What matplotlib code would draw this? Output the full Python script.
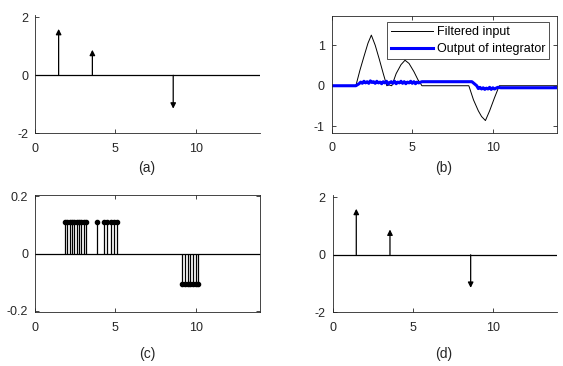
import matplotlib
matplotlib.use("Agg")
import matplotlib.pyplot as plt

plt.rcParams['font.family'] = ['Liberation Sans', 'DejaVu Sans']
plt.rcParams['axes.unicode_minus'] = False

# ---- data ----
imp_t = [1.47, 3.57, 8.6]
imp_v = [1.6, 0.88, -1.15]

filt_x = [0, 1.5, 1.75, 2.0, 2.25, 2.46, 2.7, 2.95, 3.2, 3.42, 3.55, 3.73,
          4.0, 4.3, 4.55, 4.8, 5.1, 5.35, 5.6, 8.51, 8.8, 9.1, 9.3, 9.54,
          9.8, 10.1, 10.4, 14]
filt_y = [0, 0, 0.38, 0.72, 1.05, 1.25, 1.0, 0.66, 0.3, 0.0, 0.02, 0.0,
          0.3, 0.52, 0.63, 0.55, 0.35, 0.15, 0.0, 0.0, -0.35, -0.62, -0.76, -0.86,
          -0.62, -0.3, 0.0, 0.0]

int_x = [0, 1.5, 1.7, 1.8, 1.9, 2.0, 2.1, 2.2, 2.3, 2.4, 2.5, 2.6, 2.7, 2.8,
         2.9, 3.0, 3.1, 3.2, 3.3, 3.4, 3.5, 3.6, 3.7, 3.8, 3.9, 4.0, 4.1, 4.2,
         4.3, 4.4, 4.5, 4.6, 4.7, 4.8, 4.9, 5.0, 5.1, 5.2, 5.3, 5.4, 5.6, 8.7,
         9.0, 9.1, 9.2, 9.3, 9.4, 9.5, 9.6, 9.7, 9.8, 9.9, 10.0, 10.1, 10.2,
         10.3, 10.5, 14]
int_y = [0, 0, 0.05, 0.09, 0.06, 0.11, 0.07, 0.10, 0.06, 0.12, 0.08, 0.10,
         0.06, 0.11, 0.07, 0.09, 0.05, 0.10, 0.07, 0.11, 0.04, 0.08, 0.10, 0.06,
         0.11, 0.05, 0.09, 0.07, 0.11, 0.06, 0.10, 0.05, 0.09, 0.07, 0.11, 0.06,
         0.10, 0.05, 0.09, 0.07, 0.10, 0.10, 0.0, -0.07, -0.04, -0.08, -0.05,
         -0.09, -0.06, -0.08, -0.04, -0.09, -0.05, -0.08, -0.06, -0.04, -0.05, -0.05]

stem_x = [1.88, 2.02, 2.17, 2.3, 2.45, 2.6, 2.74, 2.88, 3.02, 3.15,
          3.87, 4.3, 4.49, 4.7, 4.9, 5.11,
          9.15, 9.32, 9.5, 9.67, 9.84, 10.0, 10.17]
stem_y = [0.11] * 16 + [-0.105] * 7

xticks = [0, 5, 10]
labels = ['(a)', '(b)', '(c)', '(d)']

W, H = 563, 366
fig = plt.figure(figsize=(W / 100, H / 100), dpi=100)

def add_ax(l, r, t, b):
    return fig.add_axes([l / W, 1 - b / H, (r - l) / W, (b - t) / H])

axa = add_ax(35, 260, 15, 133.3)
axb = add_ax(331.7, 557.3, 15.7, 132.7)
axc = add_ax(35, 260, 195, 312.3)
axd = add_ax(332.7, 557.3, 195, 312.3)

gray = '#262626'

def style(ax, box):
    ax.tick_params(direction='in', length=3, width=0.6, colors=gray,
                   labelsize=9, labelcolor=gray, pad=5,
                   top=box, right=box)
    ax.tick_params(axis='x', pad=7)
    for s in ax.spines.values():
        s.set_linewidth(0.6)
        s.set_color(gray)
    if not box:
        ax.spines['top'].set_visible(False)
        ax.spines['right'].set_visible(False)
    ax.set_xlim(0, 14)
    ax.set_xticks(xticks)

def impulses(ax):
    ax.axhline(0, color='black', lw=0.9)
    for t, v in zip(imp_t, imp_v):
        ax.annotate('', xy=(t, v), xytext=(t, 0),
                    arrowprops=dict(arrowstyle='-|>', color='black', lw=0.9,
                                    mutation_scale=8, shrinkA=0, shrinkB=0))
    ax.set_ylim(-2, 2.08)
    ax.set_yticks([-2, 0, 2])

# (a)
style(axa, False)
impulses(axa)

# (b)
style(axb, True)
axb.plot(filt_x, filt_y, color='black', lw=0.7, label='Filtered input')
axb.plot(int_x, int_y, color='#0000ff', lw=2.2, label='Output of integrator')
axb.set_ylim(-1.16, 1.73)
axb.set_yticks([-1, 0, 1])
leg = axb.legend(loc='upper right', fontsize=9, frameon=True, fancybox=False,
                 handlelength=3.4, borderpad=0.35,
                 labelspacing=0.4, handletextpad=0.25, borderaxespad=0,
                 bbox_to_anchor=(0.965, 0.95))
leg.get_frame().set_edgecolor('black')
leg.get_frame().set_linewidth(0.6)

# (c)
style(axc, True)
axc.axhline(0, color='black', lw=0.9)
ml, sl, bl = axc.stem(stem_x, stem_y, linefmt='k-', markerfmt='ko', basefmt=' ')
ml.set_markersize(3)
sl.set_linewidth(0.9)
axc.set_ylim(-0.205, 0.205)
axc.set_yticks([-0.2, 0, 0.2])
axc.set_yticklabels(['-0.2', '0', '0.2'])

# (d)
style(axd, False)
impulses(axd)

# labels
label_pos = [(147, 168), (444, 168), (147, 354), (444, 354)]
for lab, (x, y) in zip(labels, label_pos):
    fig.text(x / W, 1 - y / H, lab, ha='center', va='center', fontsize=10,
             color=gray)

fig.savefig('out.png', dpi=100)
